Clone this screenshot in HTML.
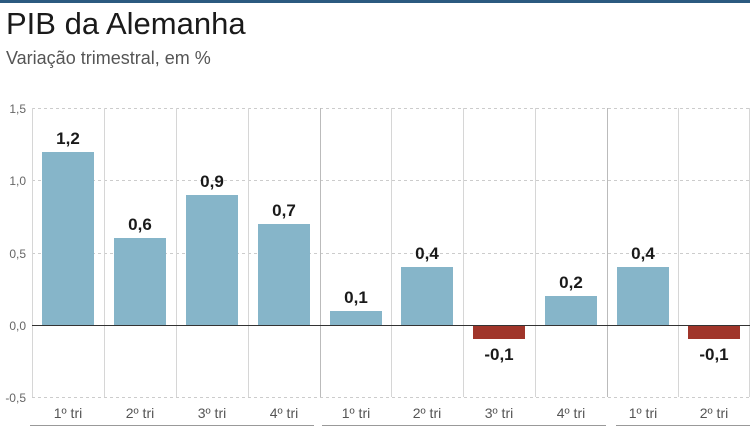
<!DOCTYPE html><html><head><style>body{margin:0;background:#fff}svg{display:block}</style></head><body>
<svg width="750" height="430" xmlns="http://www.w3.org/2000/svg" font-family="Liberation Sans, sans-serif">
<rect x="0" y="0" width="750" height="3" fill="#2b5a80"/>
<text x="6" y="34" font-size="31" fill="#1a1a1a">PIB da Alemanha</text>
<text x="6" y="64" font-size="18" fill="#555">Variação trimestral, em %</text>
<g stroke="#ccc" stroke-width="1" stroke-dasharray="3,3">
<line x1="32" y1="108.5" x2="750" y2="108.5"/><line x1="32" y1="180.5" x2="750" y2="180.5"/><line x1="32" y1="253.5" x2="750" y2="253.5"/><line x1="32" y1="397.5" x2="750" y2="397.5"/></g>
<g stroke="#d6d6d6" stroke-width="1">
<line x1="32.5" y1="108" x2="32.5" y2="397"/><line x1="104.5" y1="108" x2="104.5" y2="397"/><line x1="176.5" y1="108" x2="176.5" y2="397"/><line x1="248.5" y1="108" x2="248.5" y2="397"/><line x1="391.5" y1="108" x2="391.5" y2="397"/><line x1="463.5" y1="108" x2="463.5" y2="397"/><line x1="535.5" y1="108" x2="535.5" y2="397"/><line x1="678.5" y1="108" x2="678.5" y2="397"/><line x1="749.5" y1="108" x2="749.5" y2="397"/></g>
<g stroke="#bbb"><line x1="320.5" y1="108" x2="320.5" y2="397"/><line x1="607.5" y1="108" x2="607.5" y2="397"/></g>
<g fill="#86b5c9">
<rect x="42" y="152" width="52" height="173"/><rect x="114" y="238" width="52" height="87"/><rect x="186" y="195" width="52" height="130"/><rect x="258" y="224" width="52" height="101"/><rect x="330" y="311" width="52" height="14"/><rect x="401" y="267" width="52" height="58"/><rect x="545" y="296" width="52" height="29"/><rect x="617" y="267" width="52" height="58"/></g>
<g fill="#a0352a"><rect x="473" y="325" width="52" height="14"/><rect x="688" y="325" width="52" height="14"/></g>
<line x1="32" y1="325.5" x2="750" y2="325.5" stroke="#333" stroke-width="1"/>
<g font-size="17" font-weight="bold" fill="#1a1a1a" text-anchor="middle">
<text x="68" y="144">1,2</text><text x="140" y="230">0,6</text><text x="212" y="187">0,9</text><text x="284" y="216">0,7</text><text x="356" y="303">0,1</text><text x="427" y="259">0,4</text><text x="499" y="360">-0,1</text><text x="571" y="288">0,2</text><text x="643" y="259">0,4</text><text x="714" y="360">-0,1</text></g>
<g font-size="12" fill="#666" text-anchor="end">
<text x="26" y="113">1,5</text><text x="26" y="185">1,0</text><text x="26" y="258">0,5</text><text x="26" y="330">0,0</text><text x="26" y="402">-0,5</text></g>
<g font-size="14" fill="#555" text-anchor="middle">
<text x="68" y="418">1º tri</text><text x="140" y="418">2º tri</text><text x="212" y="418">3º tri</text><text x="284" y="418">4º tri</text><text x="356" y="418">1º tri</text><text x="427" y="418">2º tri</text><text x="499" y="418">3º tri</text><text x="571" y="418">4º tri</text><text x="643" y="418">1º tri</text><text x="714" y="418">2º tri</text></g>
<g stroke="#999" stroke-width="1"><line x1="30" y1="425.5" x2="314" y2="425.5"/><line x1="322" y1="425.5" x2="606" y2="425.5"/><line x1="616" y1="425.5" x2="750" y2="425.5"/></g>
</svg></body></html>
